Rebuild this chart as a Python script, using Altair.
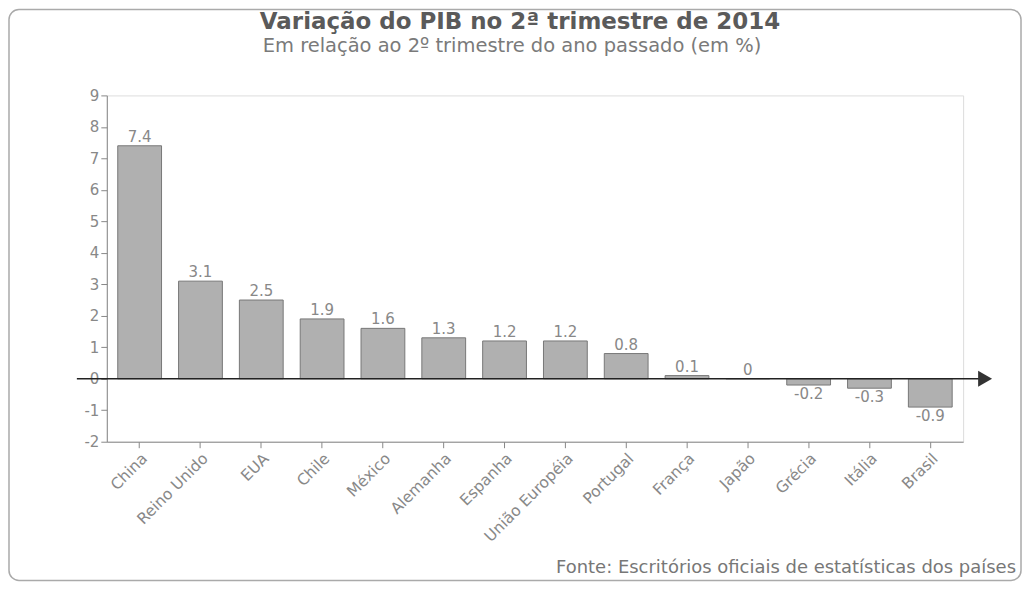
import altair as alt
import pandas as pd

paises = ["China", "Reino Unido", "EUA", "Chile", "México", "Alemanha", "Espanha",
          "União Européia", "Portugal", "França", "Japão", "Grécia", "Itália", "Brasil"]
variacao = [7.4, 3.1, 2.5, 1.9, 1.6, 1.3, 1.2, 1.2, 0.8, 0.1, 0.0, -0.2, -0.3, -0.9]
rotulos = ["7.4", "3.1", "2.5", "1.9", "1.6", "1.3", "1.2", "1.2", "0.8", "0.1", "0", "-0.2", "-0.3", "-0.9"]
y_ticks = [-2, -1, 0, 1, 2, 3, 4, 5, 6, 7, 8, 9]

titulo = "Variação do PIB no 2ª trimestre de 2014"
subtitulo = "Em relação ao 2º trimestre do ano passado (em %)"
fonte = "Fonte: Escritórios oficiais de estatísticas dos países"

df = pd.DataFrame({"pais": paises, "valor": variacao, "rotulo": rotulos})

FONT = "DejaVu Sans"
W, H = 858, 347

x = alt.X("pais:N", sort=paises, title=None,
          scale=alt.Scale(paddingInner=0.28, paddingOuter=0.18),
          axis=alt.Axis(labelAngle=-45, labelFont=FONT, labelFontSize=15.5, labelColor="#888",
                        tickColor="#888", domainColor="#888", tickSize=6, labelPadding=3))
y = alt.Y("valor:Q", title=None,
          scale=alt.Scale(domain=[-2, 9], nice=False, zero=False),
          axis=alt.Axis(values=y_ticks, grid=False, labelFont=FONT, labelFontSize=15,
                        labelColor="#888", tickColor="#888", domainColor="#888", tickSize=6,
                        labelPadding=2, labelOverlap=False, labelExpr="'' + datum.value"))

base = alt.Chart(df)

bars = base.mark_bar(fill="#b0b0b0", stroke="#777", strokeWidth=1).encode(x=x, y=y)

txt_pos = base.transform_filter("datum.valor >= 0").mark_text(
    font=FONT, fontSize=15, color="#888", baseline="bottom", dy=-1
).encode(x=x, y=y, text="rotulo:N")

txt_neg = base.transform_filter("datum.valor < 0").mark_text(
    font=FONT, fontSize=15, color="#888", baseline="top", dy=2
).encode(x=x, y=y, text="rotulo:N")

zero_df = pd.DataFrame({"valor": [0]})
rule = alt.Chart(zero_df).mark_rule(color="#222", strokeWidth=1.5).encode(
    y=y, x=alt.value(-30), x2=alt.value(878))
arrow = alt.Chart(zero_df).mark_point(shape="triangle-right", filled=True, color="#333",
                                      size=260, opacity=1).encode(
    y=y, x=alt.value(880))

tdf = pd.DataFrame({"t": [titulo]})
sdf = pd.DataFrame({"t": [subtitulo]})
fdf = pd.DataFrame({"t": [fonte]})
title_mark = alt.Chart(tdf).mark_text(font=FONT, fontSize=23, fontWeight="bold", color="#5a5a5a",
                                      align="center", baseline="middle").encode(
    x=alt.value(414), y=alt.value(-74), text="t:N")
sub_mark = alt.Chart(sdf).mark_text(font=FONT, fontSize=19.5, color="#7a7a7a",
                                    align="center", baseline="middle").encode(
    x=alt.value(406), y=alt.value(-49), text="t:N")
src_mark = alt.Chart(fdf).mark_text(font=FONT, fontSize=18, color="#777",
                                    align="right", baseline="middle").encode(
    x=alt.value(911), y=alt.value(474), text="t:N")

frame = alt.Chart(zero_df).mark_rect(fill="white", fillOpacity=0, stroke="#aaa",
                                     strokeWidth=1.5, cornerRadius=10).encode(
    x=alt.value(-98), x2=alt.value(916), y=alt.value(-86), y2=alt.value(486))

chart = alt.layer(frame, bars, txt_pos, txt_neg, rule, arrow, title_mark, sub_mark, src_mark).properties(
    width=W, height=H,
    autosize=alt.AutoSizeParams(type="none"),
    padding={"left": 99, "top": 87, "right": 62, "bottom": 140},
).configure_view(stroke="#999", strokeWidth=1).configure(background="white")

chart.save("out.html", embed_options={"renderer": "svg", "actions": False})
